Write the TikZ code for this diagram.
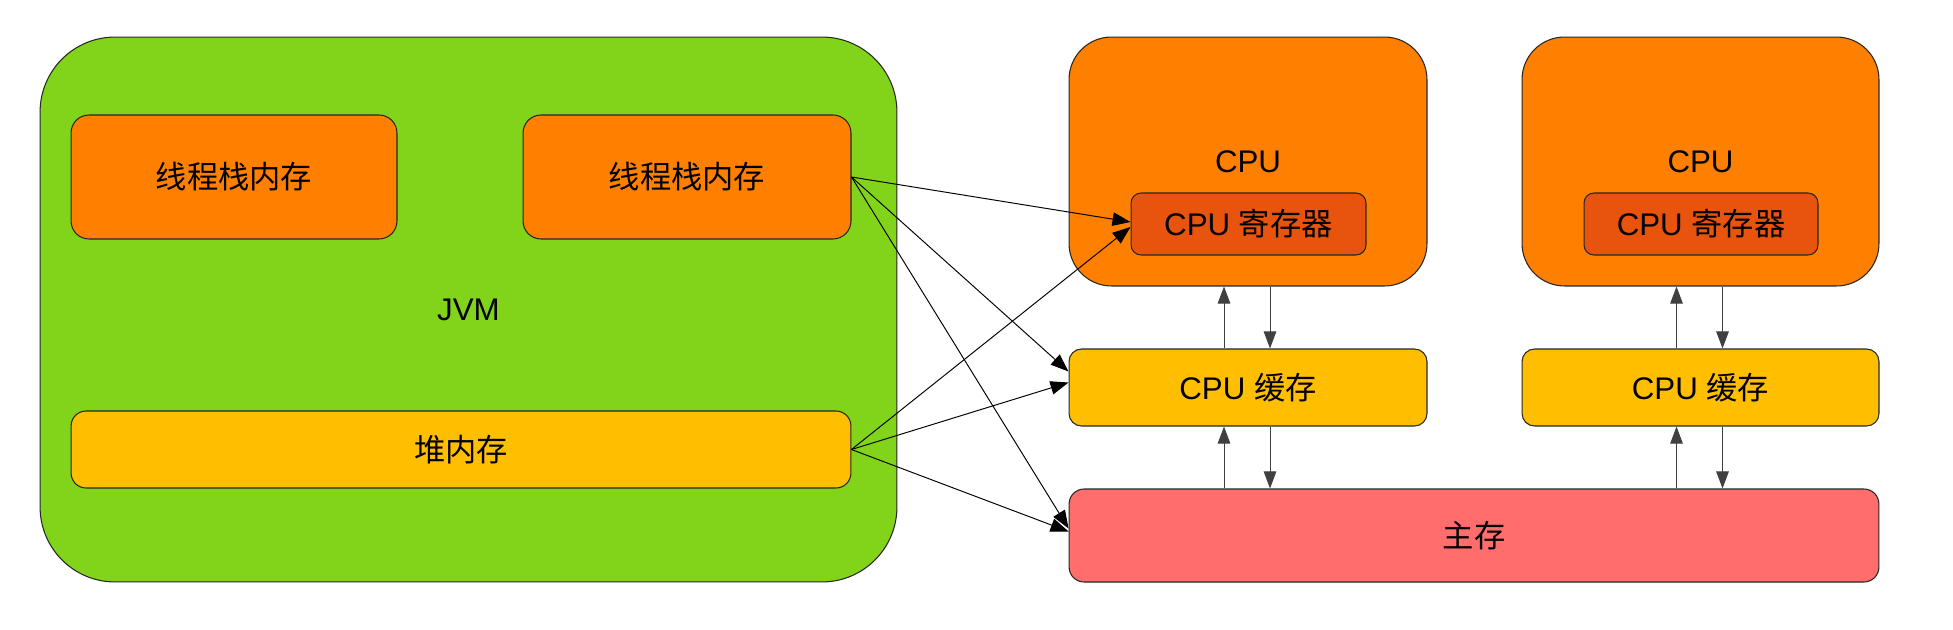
\documentclass[tikz,border=0pt]{standalone}
\usepackage{fontspec}
\setmainfont{Liberation Sans}
\newfontfamily\cjk{Noto Sans CJK SC}
\usetikzlibrary{arrows.meta,calc}
\definecolor{jvmgreen}{HTML}{81D41A}
\definecolor{boxorange}{HTML}{FF8000}
\definecolor{regorange}{HTML}{E8530E}
\definecolor{cachegold}{HTML}{FFBF00}
\definecolor{mainred}{HTML}{FF6D6D}
\begin{document}
\begin{tikzpicture}[x=0.02cm,y=-0.02cm,
  font=\fontsize{17.8}{20}\selectfont,
  box/.style={draw=black!85,line width=0.6pt,inner sep=0pt,align=center},
  arr/.style={-{Triangle[length=0.36cm,width=0.27cm]},line width=0.55pt,black},
  varr/.style={-{Triangle[length=0.34cm,width=0.25cm]},line width=0.55pt,black!75}]
\useasboundingbox (0,0) rectangle (1953,629);
% JVM
\node[box,fill=jvmgreen,rounded corners=1.5cm,minimum width=17.14cm,minimum height=10.9cm] (jvm) at (468.5,309.5) {JVM};
\node[box,fill=boxorange,rounded corners=0.36cm,minimum width=6.52cm,minimum height=2.48cm] (ts1) at (234,177) {\cjk 线程栈内存};
\node[box,fill=boxorange,rounded corners=0.36cm,minimum width=6.56cm,minimum height=2.48cm] (ts2) at (687,177) {\cjk 线程栈内存};
\node[box,fill=cachegold,rounded corners=0.3cm,minimum width=15.6cm,minimum height=1.54cm] (heap) at (461,449.5) {\cjk 堆内存};
% CPUs
\node[box,fill=boxorange,rounded corners=0.85cm,minimum width=7.16cm,minimum height=4.98cm] (cpu1) at (1248,161.5) {};
\node (cpu1l) at (1248,162) {CPU};
\node[box,fill=regorange,rounded corners=0.2cm,minimum width=4.7cm,minimum height=1.24cm] (reg1) at (1248.5,224) {CPU {\cjk 寄存器}};
\node[box,fill=boxorange,rounded corners=0.85cm,minimum width=7.14cm,minimum height=4.98cm] (cpu2) at (1700.5,161.5) {};
\node (cpu2l) at (1700.5,162) {CPU};
\node[box,fill=regorange,rounded corners=0.2cm,minimum width=4.68cm,minimum height=1.24cm] (reg2) at (1701,224) {CPU {\cjk 寄存器}};
% caches
\node[box,fill=cachegold,rounded corners=0.25cm,minimum width=7.16cm,minimum height=1.54cm] (cache1) at (1248,387.5) {CPU {\cjk 缓存}};
\node[box,fill=cachegold,rounded corners=0.25cm,minimum width=7.14cm,minimum height=1.54cm] (cache2) at (1700.5,387.5) {CPU {\cjk 缓存}};
% main memory
\node[box,fill=mainred,rounded corners=0.3cm,minimum width=16.2cm,minimum height=1.86cm] (main) at (1474,535.5) {\cjk 主存};
% diagonal arrows
\draw[arr] (ts2.east) -- ($(reg1.west)+(0,-2)$);
\draw[arr] (ts2.east) -- ($(cache1.west)+(0,-16)$);
\draw[arr] (ts2.east) -- ($(main.west)+(0,-7)$);
\draw[arr] (heap.east) -- ($(reg1.west)+(0,3)$);
\draw[arr] (heap.east) -- ($(cache1.west)+(0,-5)$);
\draw[arr] (heap.east) -- ($(main.west)+(0,-4)$);
% vertical arrows
\foreach \c/\k in {cpu1/cache1,cpu2/cache2}{
  \coordinate (u\k) at ($(\k.north)+(-24,0)$);
  \coordinate (d\k) at ($(\k.north)+(22,0)$);
  \draw[varr] (u\k) -- (u\k |- \c.south);
  \draw[varr] (d\k |- \c.south) -- (d\k);
  \draw[varr] (u\k |- main.north) -- (u\k |- \k.south);
  \draw[varr] (d\k |- \k.south) -- (d\k |- main.north);
}
\end{tikzpicture}
\end{document}
